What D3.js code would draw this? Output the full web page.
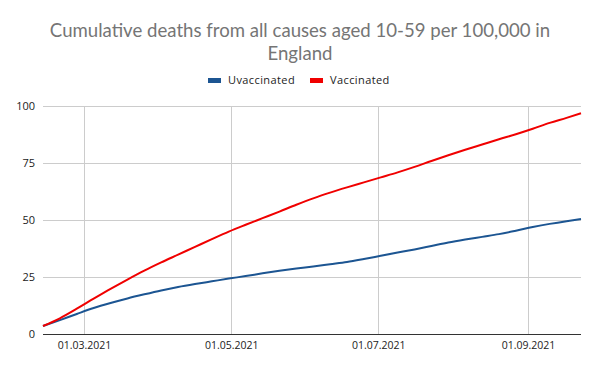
<!DOCTYPE html>
<html>
<head>
<meta charset="utf-8">
<script src="https://cdn.jsdelivr.net/npm/d3@7"></script>
<style>
  body { margin: 0; background: #fff; }
  svg { display: block; }
</style>
</head>
<body>
<svg id="chart"></svg>
<script>
// weekly points
const dates = [
  "2021-02-12", "2021-02-19", "2021-02-26", "2021-03-05", "2021-03-12",
  "2021-03-19", "2021-03-26", "2021-04-02", "2021-04-09", "2021-04-16",
  "2021-04-23", "2021-04-30", "2021-05-07", "2021-05-14", "2021-05-21",
  "2021-05-28", "2021-06-04", "2021-06-11", "2021-06-18", "2021-06-25",
  "2021-07-02", "2021-07-09", "2021-07-16", "2021-07-23", "2021-07-30",
  "2021-08-06", "2021-08-13", "2021-08-20", "2021-08-27", "2021-09-03",
  "2021-09-10", "2021-09-17", "2021-09-23"
];
const unvaccinated = [
  3.5, 6.1, 8.8, 11.4, 13.6, 15.6, 17.4, 19.1, 20.6, 21.9,
  23.1, 24.3, 25.4, 26.6, 27.7, 28.7, 29.6, 30.6, 31.6, 32.9,
  34.3, 35.7, 37.1, 38.6, 40.1, 41.4, 42.6, 43.8, 45.3, 46.9,
  48.3, 49.5, 50.4
];
const vaccinated = [
  3.5, 6.9, 11.1, 15.5, 19.8, 23.9, 27.8, 31.4, 34.8, 38.2,
  41.6, 44.9, 47.9, 50.8, 53.7, 56.7, 59.5, 62.0, 64.3, 66.5,
  68.7, 70.9, 73.3, 75.9, 78.4, 80.8, 83.1, 85.4, 87.6, 90.0,
  92.6, 94.8, 96.8
];
const yTicks = [0, 25, 50, 75, 100];
const xTicks = ["2021-03-01", "2021-05-01", "2021-07-01", "2021-09-01"];
const seriesNames = ["Uvaccinated", "Vaccinated"];
const colors = ["#1c5592", "#f00000"];
const titleLines = ["Cumulative deaths from all causes aged 10-59 per 100,000 in", "England"];

const width = 600, height = 371;
const margin = { top: 106, right: 19, bottom: 37, left: 43 };

const parse = d3.timeParse("%Y-%m-%d");
const fmt = d3.timeFormat("%d.%m.%Y");
const dateVals = dates.map(parse);

const svg = d3.select("#chart").attr("width", width).attr("height", height);

const x = d3.scaleTime()
  .domain(d3.extent(dateVals))
  .range([margin.left, width - margin.right]);
const y = d3.scaleLinear()
  .domain([0, 100])
  .range([height - margin.bottom, margin.top]);

// title
svg.append("g")
  .selectAll("text")
  .data(titleLines)
  .join("text")
  .attr("x", width / 2)
  .attr("y", (d, i) => 37 + i * 23)
  .attr("text-anchor", "middle")
  .attr("font-family", "Lato, sans-serif")
  .attr("font-size", 18.6)
  .attr("fill", "#757575")
  .text(d => d);

// legend
const legend = svg.append("g");
const legendX = [208, 310];
seriesNames.forEach((name, i) => {
  legend.append("rect")
    .attr("x", legendX[i])
    .attr("y", 78)
    .attr("width", 13)
    .attr("height", 5)
    .attr("fill", colors[i]);
  legend.append("text")
    .attr("x", legendX[i] + 20)
    .attr("y", 84)
    .attr("font-family", "Open Sans, sans-serif")
    .attr("font-size", 11)
    .attr("letter-spacing", 0.4)
    .attr("fill", "#222")
    .text(name);
});

// grid
const grid = svg.append("g").attr("stroke", "#cccccc").attr("stroke-width", 1);
grid.selectAll(".h")
  .data(yTicks.slice(1))
  .join("line")
  .attr("x1", margin.left)
  .attr("x2", width - margin.right)
  .attr("y1", d => Math.round(y(d)) + 0.5)
  .attr("y2", d => Math.round(y(d)) + 0.5);
grid.selectAll(".v")
  .data(xTicks.map(parse))
  .join("line")
  .attr("x1", d => Math.round(x(d)) + 0.5)
  .attr("x2", d => Math.round(x(d)) + 0.5)
  .attr("y1", margin.top)
  .attr("y2", height - margin.bottom);

// y labels
const yAxis = svg.append("g")
  .attr("transform", `translate(${margin.left},0)`)
  .call(d3.axisLeft(y).tickValues(yTicks).tickSize(0).tickPadding(8));
yAxis.select(".domain").remove();
yAxis.selectAll("text")
  .attr("font-family", "Open Sans, sans-serif")
  .attr("font-size", 11)
  .attr("fill", "#222");

// x labels
const xAxis = svg.append("g")
  .attr("transform", `translate(0,${height - margin.bottom})`)
  .call(d3.axisBottom(x).tickValues(xTicks.map(parse)).tickFormat(fmt).tickSize(0).tickPadding(8));
xAxis.select(".domain").remove();
xAxis.selectAll("text")
  .attr("font-family", "Open Sans, sans-serif")
  .attr("font-size", 10.5)
  .attr("fill", "#222");

// baseline
svg.append("line")
  .attr("x1", margin.left)
  .attr("x2", width - margin.right)
  .attr("y1", y(0) + 0.5)
  .attr("y2", y(0) + 0.5)
  .attr("stroke", "#333")
  .attr("stroke-width", 1.2);

// lines
const line = d3.line()
  .x((d, i) => x(dateVals[i]))
  .y(d => y(d))
  .curve(d3.curveMonotoneX);

[unvaccinated, vaccinated].forEach((vals, i) => {
  svg.append("path")
    .datum(vals)
    .attr("fill", "none")
    .attr("stroke", colors[i])
    .attr("stroke-width", 2)
    .attr("stroke-linejoin", "round")
    .attr("d", line);
});
</script>
</body>
</html>
